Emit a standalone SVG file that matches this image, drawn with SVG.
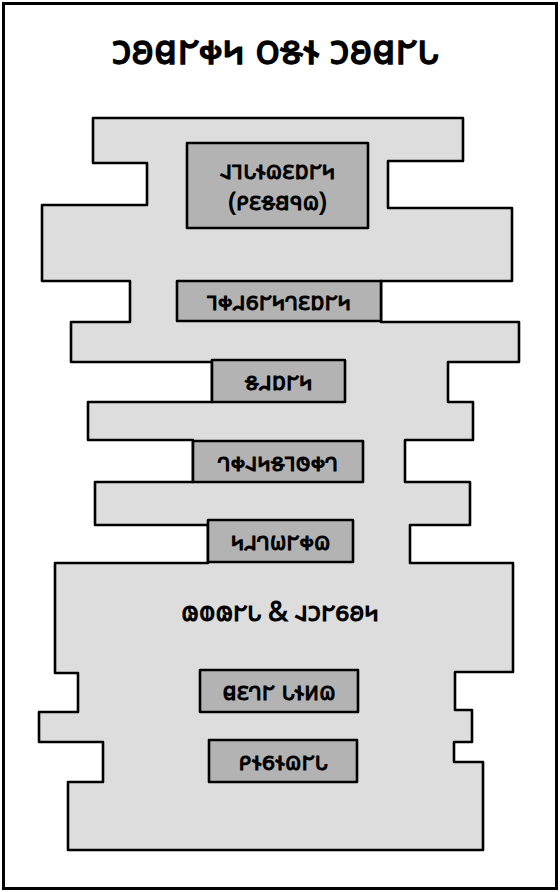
<svg xmlns="http://www.w3.org/2000/svg" width="560" height="892" viewBox="0 0 560 892">
<style>
.t{font-family:"Noto Sans Deseret","Noto Sans",sans-serif;fill:#000;text-anchor:middle;font-weight:bold}
.tower{fill:#dddddd;stroke:#000;stroke-width:2.6;stroke-linejoin:round}
.box{fill:#b3b3b3;stroke:#000;stroke-width:2.6;stroke-linejoin:round}
.bt{font-size:25px}
</style>
<rect x="0" y="0" width="560" height="892" fill="#fff"/>
<rect id="frame" x="3.5" y="3.5" width="553" height="885" fill="none" stroke="#000" stroke-width="3"/>
<g id="title"><text class="t" x="275" y="64" font-size="41">𐑋𐐪𐐼𐐲𐑉𐑌 𐐬𐑅𐐮 𐑋𐐪𐐼𐐲𐑊</text></g>
<g id="tower">
<path class="tower" d="M93,118 L463,118 L463,161 L388,161 L388,208 L512,208 L512,281 L381,281 L381,322 L519,322 L519,362 L448,362 L448,402 L473,402 L473,440 L405,440 L405,482 L470,482 L470,525 L410,525 L410,563 L513,563 L513,672 L455,672 L455,710 L472,710 L472,742 L454,742 L454,762 L483,762 L483,850 L68,850 L68,782 L103,782 L103,742 L39,742 L39,712 L78,712 L78,673 L55,673 L55,563 L208,563 L208,525 L95,525 L95,482 L193,482 L193,440 L88,440 L88,402 L212,402 L212,362 L71,362 L71,322 L130,322 L130,281 L42,281 L42,205 L147,205 L147,163 L93,163 Z"/>
</g>
<g id="base-label"><text class="t" x="280" y="621" font-size="27">𐑀𐐭𐑀𐐲𐑊 &amp; 𐐰𐑋𐐲𐑆𐐪𐑌</text></g>
<g id="n1"><rect class="box" x="187" y="143" width="181" height="85"/>
<text class="t bt" x="277.5" y="179">𐐰𐐹𐑊𐐮𐐿𐐩𐑇𐐲𐑌</text>
<text class="t bt" x="277.5" y="210">(𐑁𐐩𐑅𐐺𐐳𐐿)</text></g>
<g id="n2"><rect class="box" x="177" y="281" width="204" height="40"/>
<text class="t bt" x="279" y="310">𐐹𐑉𐐯𐑆𐐲𐑌𐐻𐐩𐑇𐐲𐑌</text></g>
<g id="n3"><rect class="box" x="212" y="360" width="133" height="42"/>
<text class="t bt" x="278.5" y="390">𐑅𐐯𐑇𐐲𐑌</text></g>
<g id="n4"><rect class="box" x="193" y="441" width="170" height="41"/>
<text class="t bt" x="278" y="471">𐐻𐑉𐐰𐑌𐑅𐐹𐐫𐑉𐐻</text></g>
<g id="n5"><rect class="box" x="208" y="520" width="145" height="42"/>
<text class="t bt" x="280.5" y="550">𐑌𐐯𐐻𐐶𐐲𐑉𐐿</text></g>
<g id="n6"><rect class="box" x="200" y="670" width="158" height="42"/>
<text class="t bt" x="279" y="700">𐐼𐐩𐐻𐐲 𐑊𐐮𐑍𐐿</text></g>
<g id="n7"><rect class="box" x="209" y="740" width="148" height="42"/>
<text class="t bt" x="283" y="770">𐑁𐐮𐑆𐐮𐐿𐐲𐑊</text></g>
<g id="connectors"></g>
</svg>
